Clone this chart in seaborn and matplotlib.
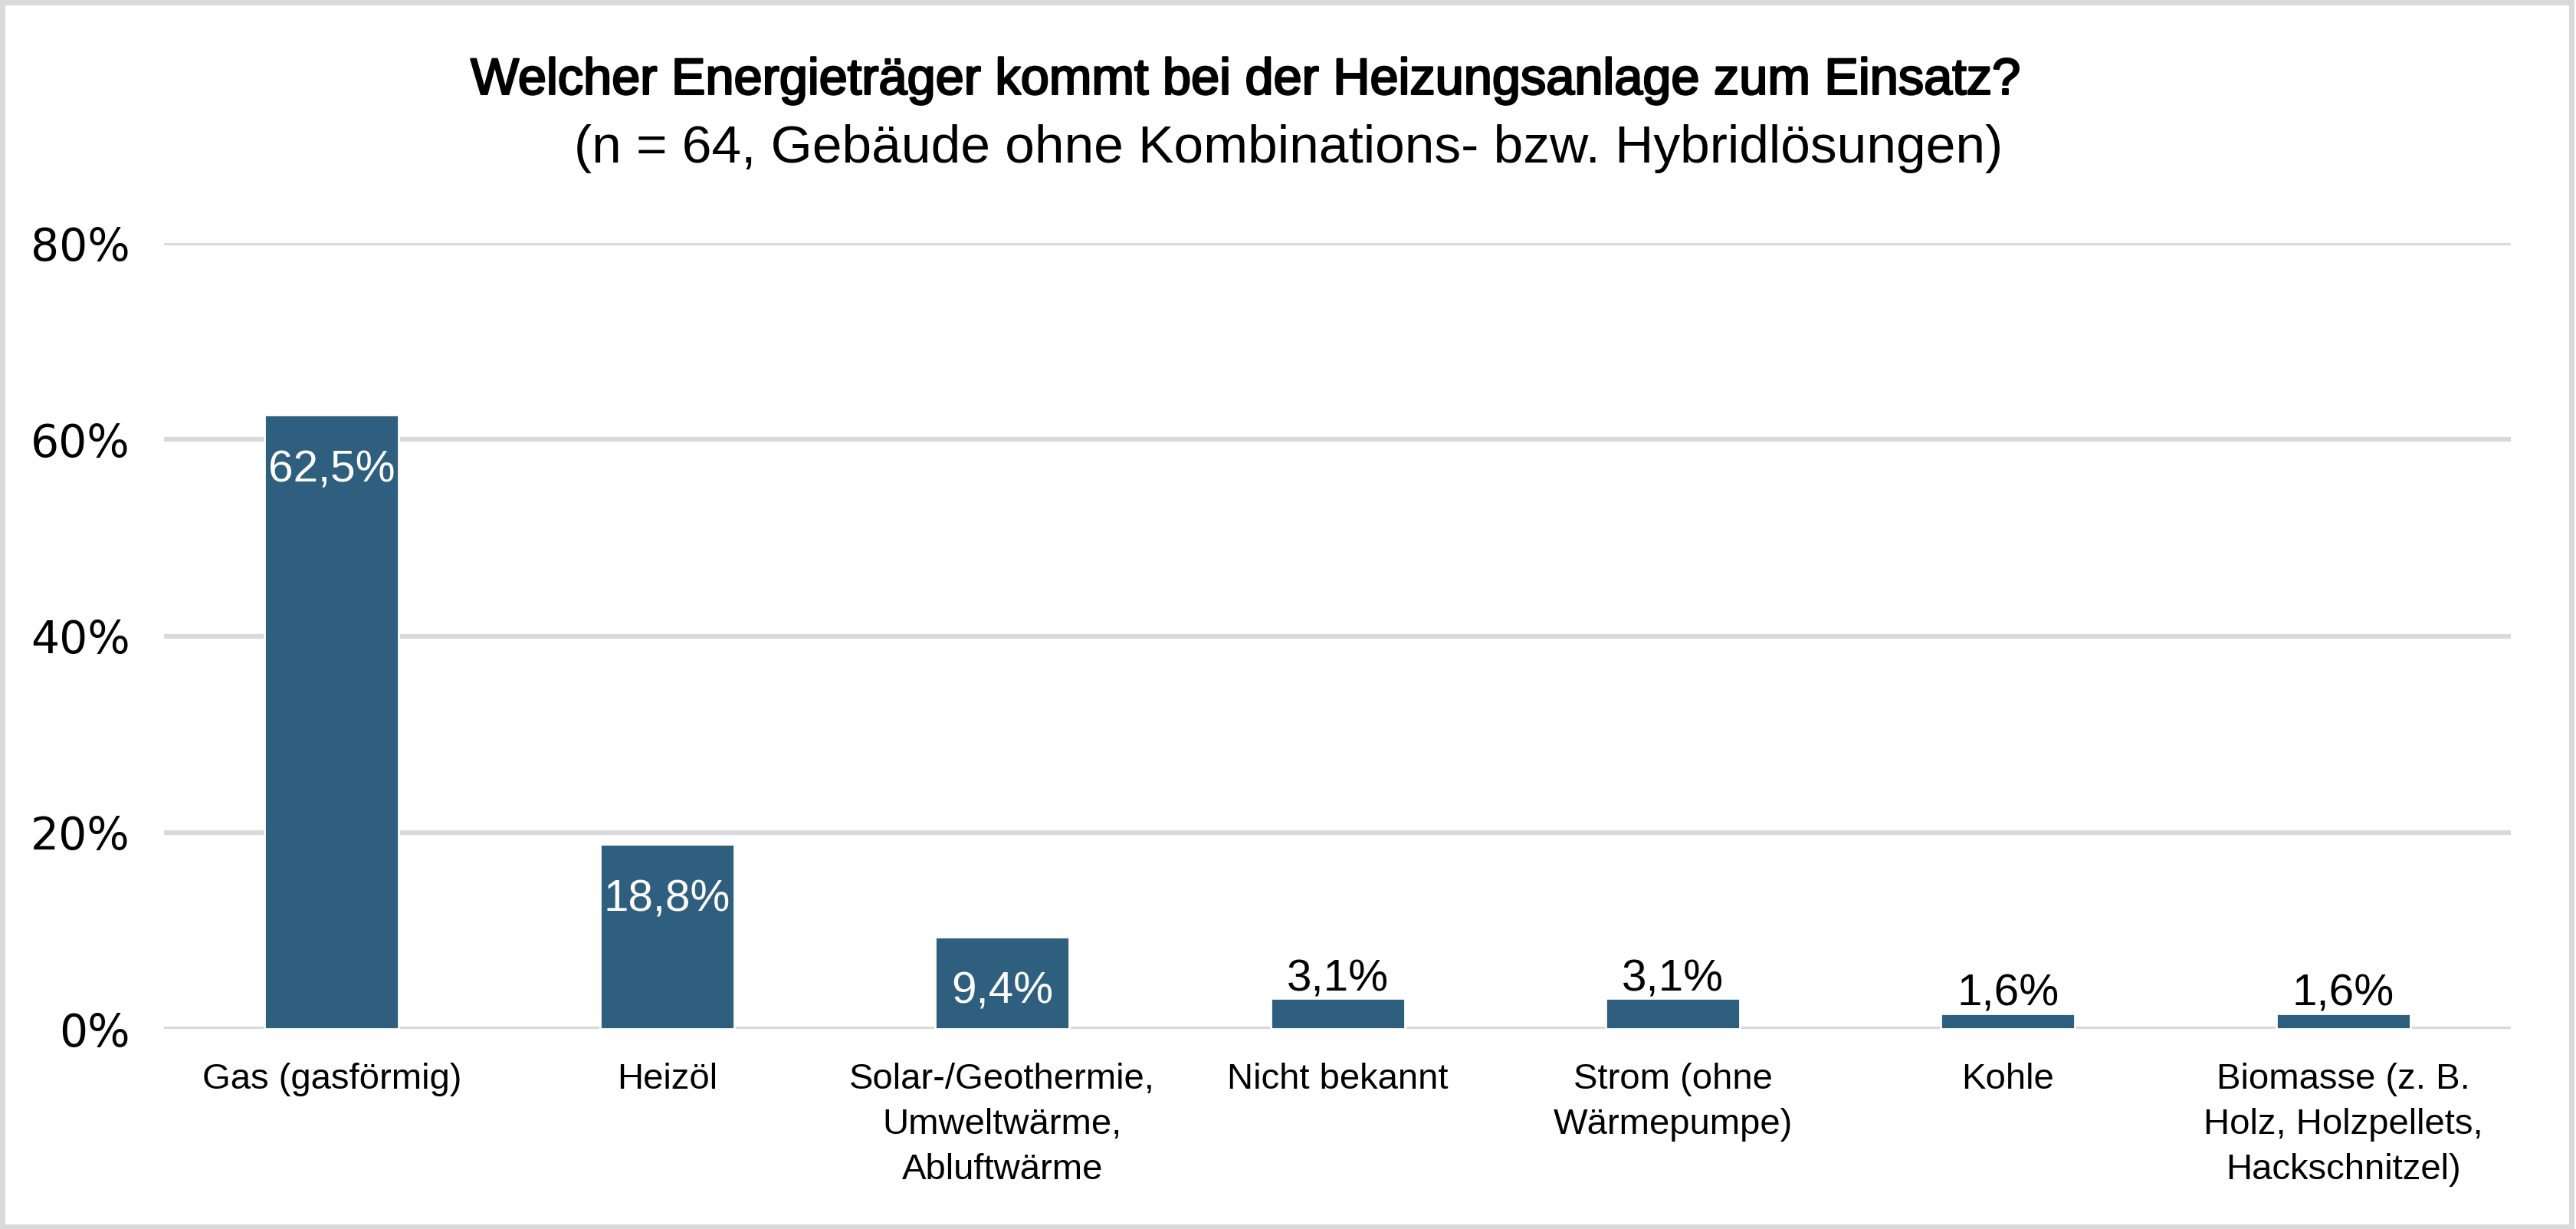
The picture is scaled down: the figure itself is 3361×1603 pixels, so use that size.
"""
Heizungsanlage - Energieträger (Balkendiagramm)
"""

import matplotlib
matplotlib.use("Agg")
import matplotlib.pyplot as plt
import matplotlib.patheffects as pe
import seaborn as sns
import pandas as pd
from matplotlib.ticker import FuncFormatter

# ---------- DATA ----------
categories = [
    "Gas (gasförmig)",
    "Heizöl",
    "Solar-/Geothermie,\nUmweltwärme,\nAbluftwärme",
    "Nicht bekannt",
    "Strom (ohne\nWärmepumpe)",
    "Kohle",
    "Biomasse (z. B.\nHolz, Holzpellets,\nHackschnitzel)",
]
shares = [62.5, 18.8, 9.4, 3.1, 3.1, 1.6, 1.6]
y_ticks = [0, 20, 40, 60, 80]

title = "Welcher Energieträger kommt bei der Heizungsanlage zum Einsatz?"
subtitle = "(n = 64, Gebäude ohne Kombinations- bzw. Hybridlösungen)"

BAR_COLOR = "#2F5F7F"
GRID_COLOR = "#D9D9D9"

df = pd.DataFrame({"kategorie": categories, "anteil": shares})

# ---------- PLOT ----------
sns.set_theme(style="white")
plt.rcParams["font.family"] = ["Liberation Sans", "DejaVu Sans"]
plt.rcParams["text.color"] = "black"
plt.rcParams["xtick.color"] = "black"
plt.rcParams["ytick.color"] = "black"

fig = plt.figure(figsize=(3362 / 200, 1603 / 200), dpi=200)
ax = fig.add_axes([0.0637, 0.1628, 0.9107, 0.6394])

sns.barplot(data=df, x="kategorie", y="anteil", color=BAR_COLOR,
            width=0.4, saturation=1, ax=ax, zorder=3)

ax.set_ylim(0, 80)
ax.set_xlim(-0.5, len(categories) - 0.5)
ax.set_yticks(y_ticks)
ax.yaxis.set_major_formatter(FuncFormatter(lambda v, _: f"{v:.0f}%"))
ax.grid(axis="y", color=GRID_COLOR, linewidth=2.2, zorder=0)
ax.set_axisbelow(True)
for s in ax.spines.values():
    s.set_visible(False)
ax.set_xlabel("")
ax.set_ylabel("")
ax.tick_params(axis="y", length=0, pad=16, labelsize=21)
ax.tick_params(axis="x", length=0, pad=16, labelsize=17)
for lab in ax.get_yticklabels():
    lab.set_family(["DejaVu Sans"])
for lab in ax.get_xticklabels():
    lab.set_linespacing(1.44)
    lab.set_verticalalignment("top")

# data labels: inside (white) for large bars, above (black) for small ones
for i, v in enumerate(shares):
    txt = f"{v:.1f}%".replace(".", ",")
    if v > 5:
        ax.annotate(txt, (i, v), xytext=(0, -26), textcoords="offset points",
                    ha="center", va="center", color="white", fontsize=21)
    else:
        ax.annotate(txt, (i, v), xytext=(0, 9), textcoords="offset points",
                    ha="center", va="center", color="black", fontsize=21)

# title slightly heavier than the subtitle (semi-bold look)
fig.text(0.4834, 0.934, title, ha="center", va="center", fontsize=24,
         path_effects=[pe.withStroke(linewidth=0.9, foreground="black")])
fig.text(0.5, 0.879, subtitle, ha="center", va="center", fontsize=25)

# light grey frame around the whole chart
fig.patches.append(plt.Rectangle((0.001, 0.002), 0.997, 0.996, transform=fig.transFigure,
                                 fill=False, edgecolor=GRID_COLOR, linewidth=2.5))

fig.savefig("out.png", dpi=200, facecolor="white")
plt.close(fig)
